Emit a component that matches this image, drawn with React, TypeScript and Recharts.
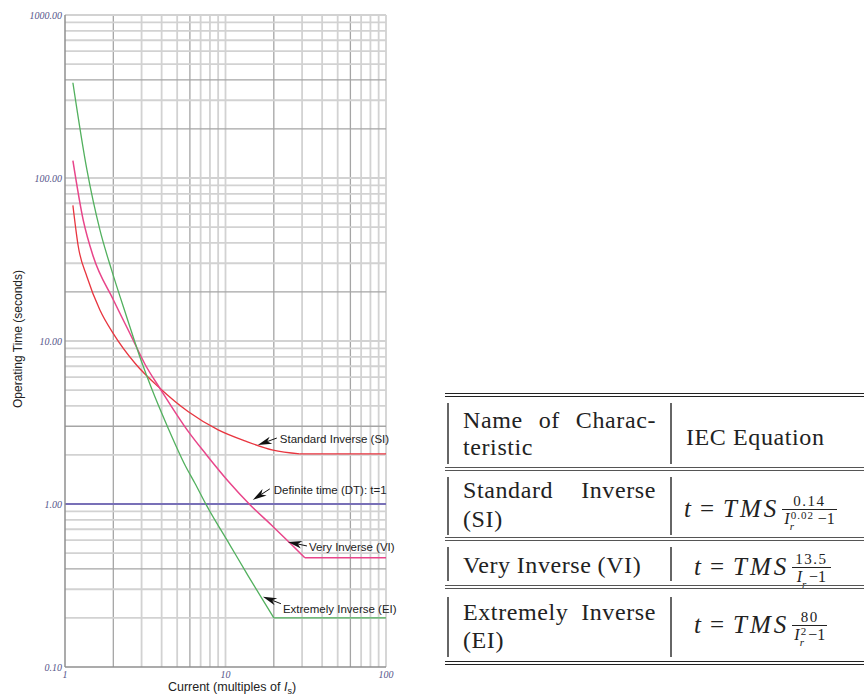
import React from "react";
import { LineChart, Line, XAxis, YAxis, ReferenceLine, ReferenceDot } from "recharts";

// axis ticks (log decades) and minor grid
const xDecades = [1, 10, 100];
const yDecades = [0.1, 1, 10, 100, 1000];
const xGrid = [2, 3, 4, 5, 6, 7, 8, 9, 10, 20, 30, 40, 50, 60, 70, 80, 90, 100];
const yGrid = [
  0.2, 0.3, 0.4, 0.5, 0.6, 0.7, 0.8, 0.9, 1,
  2, 3, 4, 5, 6, 7, 8, 9, 10,
  20, 30, 40, 50, 60, 70, 80, 90, 100,
  200, 300, 400, 500, 600, 700, 800, 900, 1000,
];
const xGridDark = [2, 6, 20, 60];
const yGridDark = [0.4, 3, 20, 200, 400];

// Standard Inverse (SI) - last two points are the flat tail
const siCurrent = [1.12, 1.21, 1.37, 1.65, 2.0, 2.73, 3.9, 5.87, 9.0, 13.2, 19.8, 29, 100];
const siTime = [68, 38, 24.8, 15.5, 11.1, 7.3, 5.13, 3.68, 2.85, 2.44, 2.14, 2.03, 2.03];

// Very Inverse (VI)
const viCurrent = [1.12, 1.3, 1.5, 2.0, 2.6, 3.15, 3.9, 5.87, 7.62, 10.4, 14.2, 19.8, 25.3, 31.2, 100];
const viTime = [128, 55, 33, 17.9, 10.6, 7.2, 5.13, 2.78, 2.0, 1.38, 0.99, 0.726, 0.574, 0.468, 0.468];

// Extremely Inverse (EI)
const eiCurrent = [1.12, 1.37, 1.65, 1.95, 2.42, 3.0, 3.46, 4.4, 5.6, 6.45, 7.62, 10.66, 13.9, 20, 100];
const eiTime = [384, 112, 48, 27.3, 14.1, 7.46, 5.13, 2.91, 1.73, 1.34, 0.98, 0.56, 0.36, 0.2, 0.2];

// Definite time (DT)
const dtCurrent = [1, 100];
const dtTime = [1, 1];

const toRows = (cur: number[], t: number[]) => cur.map((c, i) => ({ current: c, time: t[i] }));

const notes = [
  { label: "Standard Inverse (SI)", current: 15.9, time: 2.3, tx: 19, ty: -7, lx: 22, ly: -6 },
  { label: "Definite time (DT): t=1", current: 14.8, time: 1.06, tx: 17, ty: -11, lx: 21, ly: -10 },
  { label: "Very Inverse (VI)", current: 24.5, time: 0.585, tx: 19, ty: 4, lx: 21, ly: 5 },
  { label: "Extremely Inverse (EI)", current: 17.1, time: 0.27, tx: 18, ty: 7, lx: 20, ly: 12 },
];

const SANS = "'Liberation Sans', Arial, sans-serif";
const SERIF = "'Liberation Serif', 'DejaVu Serif', 'Times New Roman', serif";

function Pointer(props: any) {
  const { cx, cy, tx, ty, lx, ly, label } = props;
  const len = Math.hypot(tx, ty);
  const ux = tx / len;
  const uy = ty / len;
  const nx = -uy;
  const ny = ux;
  const head = 14;
  const half = 3.8;
  const notch = 10;
  const pts = [
    [cx, cy],
    [cx + ux * head + nx * half, cy + uy * head + ny * half],
    [cx + ux * notch, cy + uy * notch],
    [cx + ux * head - nx * half, cy + uy * head - ny * half],
  ]
    .map((p) => p.join(","))
    .join(" ");
  return (
    <g>
      <line x1={cx + ux * notch} y1={cy + uy * notch} x2={cx + tx} y2={cy + ty} stroke="#111" strokeWidth={1} />
      <polygon points={pts} fill="#111" />
      <text x={cx + lx} y={cy + ly} dominantBaseline="central" fontSize={11.5} fontFamily={SANS} fill="#222">
        {label}
      </text>
    </g>
  );
}

function Frac({ num, den }: { num: React.ReactNode; den: React.ReactNode }) {
  return (
    <span
      style={{
        display: "inline-flex",
        flexDirection: "column",
        alignItems: "center",
        verticalAlign: "middle",
        marginLeft: 3,
      }}
    >
      <span style={{ fontSize: 15, lineHeight: "15px", fontStyle: "normal", letterSpacing: 1.5, padding: "0 3px" }}>{num}</span>
      <span style={{ borderTop: "1px solid #222", width: "100%" }} />
      <span style={{ fontSize: 16, lineHeight: "18px", padding: "0 2px", whiteSpace: "nowrap" }}>{den}</span>
    </span>
  );
}

function Scripts({ sup, sub }: { sup?: string; sub: string }) {
  const w = sup ? sup.length * 6.5 + 2 : 7;
  return (
    <span style={{ display: "inline-block", position: "relative", width: w, height: 10 }}>
      {sup && (
        <span style={{ position: "absolute", left: 1, top: -4, fontSize: 11, lineHeight: "11px", fontStyle: "normal", letterSpacing: 1 }}>
          {sup}
        </span>
      )}
      <span style={{ position: "absolute", left: 0, top: 7, fontSize: 11, lineHeight: "11px", fontStyle: "italic" }}>{sub}</span>
    </span>
  );
}

function Eq({ left, top, num, den }: { left: number; top: number; num: string; den: React.ReactNode }) {
  return (
    <div style={{ position: "absolute", left, top, fontFamily: SERIF, fontSize: 25, lineHeight: "25px", color: "#222", whiteSpace: "nowrap" }}>
      <i>t</i>
      <span style={{ margin: "0 9px" }}>=</span>
      <i style={{ letterSpacing: 3 }}>TMS</i>
      <Frac num={num} den={den} />
    </div>
  );
}

function Bar({ x, y1, y2 }: { x: number; y1: number; y2: number }) {
  return <div style={{ position: "absolute", left: x, top: y1, width: 1.5, height: y2 - y1, background: "#666" }} />;
}

function Rule({ y, dark }: { y: number; dark?: boolean }) {
  return (
    <div
      style={{
        position: "absolute",
        left: 445,
        top: y,
        width: 430,
        height: 0,
        borderTop: dark ? "4px double #222" : "4px double #555",
      }}
    />
  );
}

function TextLine({ top, words, justify }: { top: number; words: string[]; justify?: boolean }) {
  return (
    <div
      style={{
        position: "absolute",
        left: 463,
        top,
        width: 193,
        display: "flex",
        justifyContent: justify ? "space-between" : "flex-start",
        gap: justify ? 0 : 6,
        fontFamily: SERIF,
        fontSize: 24,
        lineHeight: "24px",
        letterSpacing: 0.6,
        color: "#222",
        whiteSpace: "nowrap",
      }}
    >
      {words.map((w, i) => (
        <span key={i}>{w}</span>
      ))}
    </div>
  );
}

const lineProps = { dataKey: "time", dot: false, isAnimationActive: false } as const;

export default function App() {
  const si = toRows(siCurrent, siTime);
  const vi = toRows(viCurrent, viTime);
  const ei = toRows(eiCurrent, eiTime);
  return (
    <div style={{ position: "absolute", left: 0, top: 0, width: 864, height: 699, overflow: "hidden", background: "#fff" }}>
      <div style={{ position: "absolute", left: 0, top: 0 }}>
        <LineChart width={410} height={699} margin={{ top: 15, right: 24, bottom: 10, left: 10 }}>
          <XAxis
            dataKey="current"
            type="number"
            scale="log"
            domain={[1, 100]}
            ticks={xDecades}
            allowDataOverflow
            tickLine={false}
            tickSize={0}
            tickMargin={4}
            height={22}
            axisLine={{ stroke: "#8f8f8f", strokeWidth: 1.5 }}
            tick={{ fontSize: 10, fill: "#55558a", fontStyle: "italic", fontFamily: SERIF }}
          />
          <YAxis
            dataKey="time"
            type="number"
            scale="log"
            domain={[0.1, 1000]}
            ticks={yDecades}
            allowDataOverflow
            tickLine={false}
            tickSize={0}
            tickMargin={3}
            width={55}
            axisLine={{ stroke: "#8f8f8f", strokeWidth: 1.5 }}
            tickFormatter={(v: number) => v.toFixed(2)}
            tick={{ fontSize: 10, fill: "#55558a", fontStyle: "italic", fontFamily: SERIF }}
          />
          {xGrid.map((v) => (
            <ReferenceLine
              key={"x" + v}
              x={v}
              stroke={xGridDark.includes(v) ? "#a5a5a5" : "#d2d2d2"}
              strokeWidth={xGridDark.includes(v) ? 1.3 : 1.8}
            />
          ))}
          {yGrid.map((v) => (
            <ReferenceLine
              key={"y" + v}
              y={v}
              stroke={yGridDark.includes(v) ? "#a5a5a5" : "#d2d2d2"}
              strokeWidth={yGridDark.includes(v) ? 1.3 : 1.8}
            />
          ))}
          <Line {...lineProps} data={toRows(dtCurrent, dtTime)} type="linear" stroke="#5a4fae" strokeWidth={1.3} />
          <Line {...lineProps} data={si.slice(0, -1)} type="monotone" stroke="#e8353f" strokeWidth={1.3} />
          <Line {...lineProps} data={si.slice(-2)} type="linear" stroke="#e8353f" strokeWidth={1.3} />
          <Line {...lineProps} data={vi.slice(0, -1)} type="monotone" stroke="#e8458a" strokeWidth={1.5} />
          <Line {...lineProps} data={vi.slice(-2)} type="linear" stroke="#e8458a" strokeWidth={1.5} />
          <Line {...lineProps} data={ei.slice(0, -1)} type="monotone" stroke="#52b05e" strokeWidth={1.3} />
          <Line {...lineProps} data={ei.slice(-2)} type="linear" stroke="#52b05e" strokeWidth={1.3} />
          {notes.map((n) => (
            <ReferenceDot
              key={n.label}
              x={n.current}
              y={n.time}
              r={0}
              ifOverflow="visible"
              shape={(p: any) => <Pointer cx={p.cx} cy={p.cy} tx={n.tx} ty={n.ty} lx={n.lx} ly={n.ly} label={n.label} />}
            />
          ))}
        </LineChart>
      </div>

      <div
        style={{
          position: "absolute",
          left: 18,
          top: 339,
          transform: "translate(-50%, -50%) rotate(-90deg)",
          fontFamily: SANS,
          fontSize: 12,
          color: "#222",
          whiteSpace: "nowrap",
        }}
      >
        Operating Time (seconds)
      </div>
      <div
        style={{
          position: "absolute",
          left: 232,
          top: 688,
          transform: "translate(-50%, -50%)",
          fontFamily: SANS,
          fontSize: 12.5,
          color: "#222",
          whiteSpace: "nowrap",
        }}
      >
        Current (multiples of <i>I</i>
        <sub style={{ fontSize: 9 }}>s</sub>)
      </div>

      {/* table */}
      <Rule y={393} dark />
      <Bar x={447} y1={403} y2={464} />
      <Bar x={670} y1={403} y2={464} />
      <TextLine top={408} words={["Name", "of", "Charac-"]} justify />
      <TextLine top={435} words={["teristic"]} />
      <div style={{ position: "absolute", left: 686, top: 425, fontFamily: SERIF, fontSize: 24, lineHeight: "24px", letterSpacing: 0.6, color: "#222", whiteSpace: "nowrap" }}>
        IEC Equation
      </div>
      <Rule y={467} />

      <Bar x={447} y1={477} y2={535} />
      <Bar x={670} y1={477} y2={535} />
      <TextLine top={478} words={["Standard", "Inverse"]} justify />
      <TextLine top={507} words={["(SI)"]} />
      <Eq left={684} top={494} num="0.14" den={<><i>I</i><Scripts sup="0.02" sub="r" />−1</>} />
      <Rule y={537} />

      <Bar x={447} y1={547} y2={581} />
      <Bar x={670} y1={547} y2={581} />
      <TextLine top={553} words={["Very", "Inverse", "(VI)"]} />
      <Eq left={694} top={552} num="13.5" den={<><i>I</i><Scripts sub="r" />−1</>} />
      <Rule y={585} />

      <Bar x={447} y1={597} y2={657} />
      <Bar x={670} y1={597} y2={657} />
      <TextLine top={600} words={["Extremely", "Inverse"]} justify />
      <TextLine top={628} words={["(EI)"]} />
      <Eq left={694} top={610} num="80" den={<><i>I</i><Scripts sup="2" sub="r" />−1</>} />
      <Rule y={661} dark />
    </div>
  );
}
